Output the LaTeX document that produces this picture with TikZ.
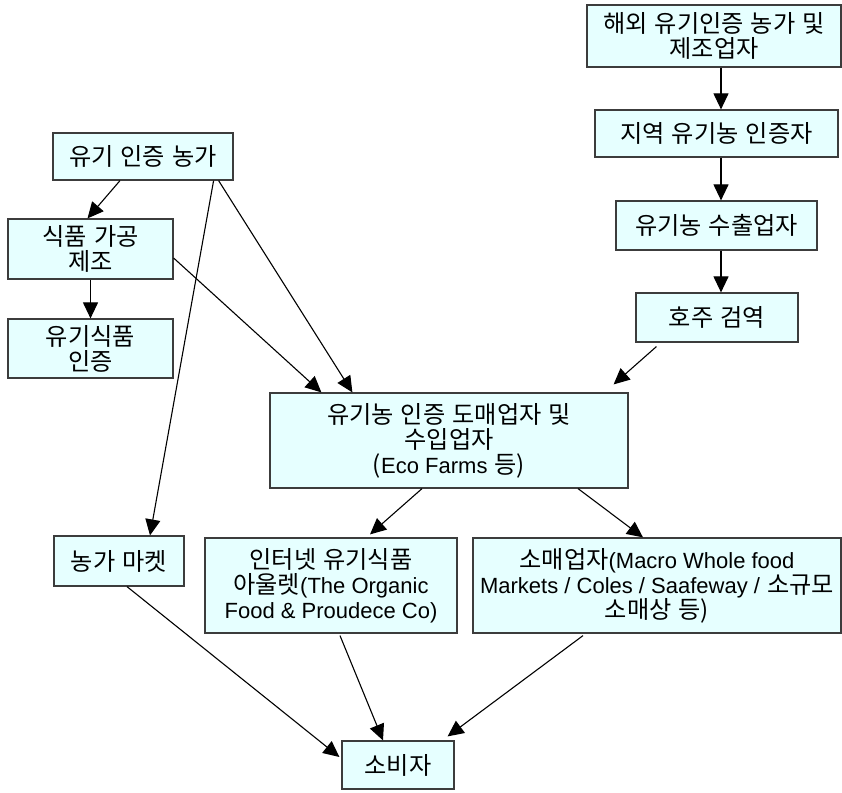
\documentclass[tikz,border=0pt]{standalone}
\usepackage{fontspec}
\setmainfont{Noto Sans CJK KR}[Scale=1.1,WordSpace=1.3]
\newfontfamily\lat{Liberation Sans}
\usetikzlibrary{arrows.meta}
\definecolor{boxfill}{RGB}{230,255,255}
\definecolor{boxline}{RGB}{60,60,60}

\begin{document}
\begin{tikzpicture}[x=1pt,y=-1pt,
  box/.style={draw=boxline,fill=boxfill,line width=1.2pt,align=center,inner sep=0pt,
    font=\fontsize{22}{25}\selectfont},
  link/.style={line width=1.1pt,-{Triangle[length=16pt,width=15pt]}}]
\useasboundingbox (0,0) rectangle (842,792);
% left column
\node [box,minimum width=180pt,minimum height=47pt] (farm) at (143,156.5) {유기 인증 농가};
\node [box,minimum width=165pt,minimum height=60pt] (proc) at (90.5,249) {식품 가공\\제조};
\node [box,minimum width=165pt,minimum height=59pt] (cert) at (90.5,348.5) {유기식품\\인증};
% right column
\node [box,minimum width=254pt,minimum height=62pt] (ovs) at (714,36) {해외 유기인증 농가 및\\제조업자};
\node [box,minimum width=243pt,minimum height=47pt] (local) at (716.5,133.5) {지역 유기농 인증자};
\node [box,minimum width=201pt,minimum height=49pt] (exp) at (716.5,225.5) {유기농 수출업자};
\node [box,minimum width=162pt,minimum height=49pt] (quar) at (717,317.5) {호주 검역};
% middle and bottom
\node [box,minimum width=358pt,minimum height=95pt] (whole) at (449,440.5)
  {유기농 인증 도매업자 및\\수입업자\\({\lat Eco Farms} 등)};
\node [box,minimum width=130pt,minimum height=50pt] (market) at (119,561) {농가 마켓};
\node [box,minimum width=252pt,minimum height=95pt] (online) at (331,585.5)
  {인터넷 유기식품\\아울렛{\lat (The Organic}\\{\lat Food \& Proudece Co)}};
\node [box,minimum width=368pt,minimum height=95pt] (retail) at (657,585.5)
  {소매업자{\lat (Macro Whole food}\\{\lat Markets / Coles / Saafeway /} 소규모\\소매상 등)};
\node [box,minimum width=112pt,minimum height=48pt] (cons) at (398,765) {소비자};

\draw [link] ([xshift=-23pt]farm.south) -- ([xshift=-3pt]proc.north);
\draw [link] (proc.south) -- (cert.north);
\draw [link] ([xshift=-20pt]farm.south east) -- ([xshift=31pt]market.north);
\draw [link] ([xshift=-15pt]farm.south east) -- ([xshift=83pt]whole.north west);
\draw [link] ([yshift=-9pt]proc.east) -- ([xshift=52pt]whole.north west);
\draw [link] ([xshift=7pt]ovs.south) -- ([xshift=4.5pt]local.north);
\draw [link] ([xshift=4.5pt]local.south) -- ([xshift=4.5pt]exp.north);
\draw [link] ([xshift=4.5pt]exp.south) -- ([xshift=4pt]quar.north);
\draw [link] ([xshift=21pt,yshift=-4pt]quar.south west) -- ([xshift=-15pt,yshift=8pt]whole.north east);
\draw [link] ([xshift=-27pt]whole.south) -- ([xshift=39pt,yshift=3pt]online.north);
\draw [link] ([xshift=129pt]whole.south) -- ([xshift=-14pt]retail.north);
\draw [link] ([xshift=8pt]market.south) -- ([xshift=-2pt,yshift=8pt]cons.west);
\draw [link] ([xshift=9pt,yshift=-2pt]online.south) -- ([xshift=-15pt]cons.north);
\draw [link] ([xshift=-74pt,yshift=-2pt]retail.south) -- ([xshift=-7pt,yshift=4pt]cons.north east);
\end{tikzpicture}
\end{document}
